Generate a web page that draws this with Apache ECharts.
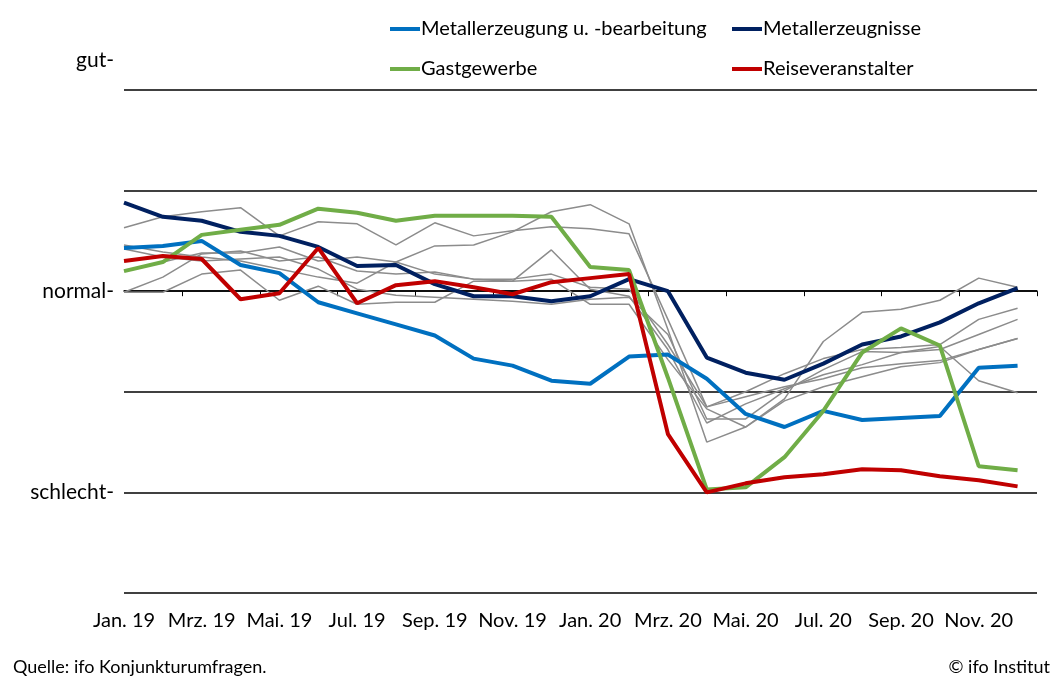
<!DOCTYPE html>
<html>
<head>
<meta charset="utf-8">
<script src="https://cdn.jsdelivr.net/npm/echarts@6/dist/echarts.min.js"></script>
<style>
  html, body { margin: 0; padding: 0; background: #fff; }
  #chart { width: 1057px; height: 679px; }
</style>
</head>
<body>
<div id="chart"></div>
<script>
// months Jan. 19 .. Dez. 20 (index 0..23)
const monthLabels = ['Jan. 19', 'Feb. 19', 'Mrz. 19', 'Apr. 19', 'Mai. 19', 'Jun. 19', 'Jul. 19', 'Aug. 19', 'Sep. 19', 'Okt. 19', 'Nov. 19', 'Dez. 19',
  'Jan. 20', 'Feb. 20', 'Mrz. 20', 'Apr. 20', 'Mai. 20', 'Jun. 20', 'Jul. 20', 'Aug. 20', 'Sep. 20', 'Okt. 20', 'Nov. 20', 'Dez. 20'];
const labelMonths = [0, 2, 4, 6, 8, 10, 12, 14, 16, 18, 20, 22];
const tickMonths = [1.5, 3.5, 5.5, 7.5, 9.5, 11.5, 13.5, 15.5, 17.5, 19.5, 21.5, 23.5];

// y scale: 20 = gut, 0 = normal, -20 = schlecht
const yLabels = { '20': 'gut-', '0': 'normal-', '-20': 'schlecht-' };

const metallerzeugung = [4.3, 4.5, 5.0, 2.6, 1.8, -1.1, -2.2, -3.3, -4.4, -6.7, -7.4, -8.9,
  -9.2, -6.5, -6.3, -8.7, -12.2, -13.5, -11.9, -12.8, -12.6, -12.4, -7.6, -7.4];
const metallerzeugnisse = [8.8, 7.4, 7.0, 5.9, 5.5, 4.4, 2.5, 2.6, 0.7, -0.5, -0.5, -1.0,
  -0.5, 1.2, 0.0, -6.6, -8.1, -8.8, -7.2, -5.3, -4.5, -3.1, -1.2, 0.3];
const gastgewerbe = [2.0, 2.9, 5.6, 6.1, 6.6, 8.2, 7.8, 7.0, 7.5, 7.5, 7.5, 7.4,
  2.4, 2.1, -8.6, -19.7, -19.5, -16.5, -11.9, -6.1, -3.7, -5.4, -17.4, -17.8];
const reiseveranstalter = [3.0, 3.5, 3.2, -0.8, -0.2, 4.3, -1.2, 0.6, 1.0, 0.4, -0.3, 0.9,
  1.3, 1.7, -14.2, -20.0, -19.1, -18.5, -18.2, -17.7, -17.8, -18.4, -18.8, -19.4];

// other sectors (grey)
const grau1 = [6.3, 7.4, 7.9, 8.3, 5.5, 6.9, 6.7, 4.6, 6.8, 5.5, 6.0, 6.4,
  6.2, 5.7, -2.8, -11.5, -10.0, -8.2, -6.7, -5.8, -5.6, -5.3, -2.8, -1.7];
const grau2 = [4.6, 3.9, 3.4, 3.0, 2.2, 1.4, 0.8, 2.9, 4.5, 4.6, 5.9, 7.9,
  8.6, 6.7, -3.8, -15.0, -13.5, -10.7, -5.0, -2.1, -1.8, -0.9, 1.3, 0.4];
const grau3 = [2.0, 2.9, 3.8, 3.8, 4.4, 3.0, 3.4, 2.9, 1.7, 1.2, 1.0, 4.1,
  0.2, -0.5, -5.8, -13.1, -11.2, -9.7, -8.3, -7.3, -6.1, -5.5, -8.9, -10.1];
const grau4 = [-0.1, 1.4, 3.7, 4.0, 3.0, 3.4, 2.0, 1.7, 1.9, 1.2, 1.2, 1.7,
  0.4, 0.2, -5.3, -11.5, -10.5, -9.5, -8.7, -7.6, -7.2, -6.9, -5.8, -4.7];
const grau5 = [-0.1, -0.1, 1.7, 2.1, -0.9, 0.5, -1.3, -1.1, -1.1, 1.0, 1.0, 1.2,
  -1.3, -1.3, -6.8, -11.7, -13.5, -10.9, -9.5, -8.5, -7.5, -7.1, -5.8, -4.7];
const grau6 = [4.2, 3.4, 3.0, 3.2, 3.4, 2.2, 0.2, -0.4, -0.6, -0.8, -1.0, -1.3,
  -0.8, -0.6, -4.3, -12.7, -12.7, -9.9, -7.8, -6.0, -6.1, -5.8, -4.3, -2.8];

const FONT = 'Lato, "Liberation Sans", sans-serif';

const toPoints = (arr) => arr.map((v, i) => [i, v]);

const chart = echarts.init(document.getElementById('chart'));

const greySeries = [grau1, grau2, grau3, grau4, grau5, grau6].map((arr, k) => ({
  name: 'grau' + (k + 1),
  type: 'line',
  data: toPoints(arr),
  symbol: 'none',
  silent: true,
  lineStyle: { color: '#8c8c8c', width: 1.5 },
  z: 2
}));

const mainLine = (name, arr, color) => ({
  name: name,
  type: 'line',
  data: toPoints(arr),
  symbol: 'none',
  lineStyle: { color: color, width: 4 },
  itemStyle: { color: color },
  z: 3
});

const legendBase = {
  orient: 'vertical',
  top: 14,
  itemWidth: 30,
  itemHeight: 4,
  itemGap: 20,
  icon: 'rect',
  selectedMode: false,
  textStyle: { fontFamily: FONT, fontSize: 20, color: '#000', padding: [0, 0, 0, -4] }
};

const option = {
  animation: false,
  textStyle: { fontFamily: FONT },
  legend: [
    Object.assign({}, legendBase, { left: 385, data: ['Metallerzeugung u. -bearbeitung', 'Gastgewerbe'] }),
    Object.assign({}, legendBase, { left: 727, data: ['Metallerzeugnisse', 'Reiseveranstalter'] })
  ],
  title: [
    {
      text: 'Quelle: ifo Konjunkturumfragen.',
      left: 8, bottom: -2,
      textStyle: { fontFamily: FONT, fontSize: 18, fontWeight: 'normal', color: '#000' }
    },
    {
      text: '© ifo Institut',
      right: 2, bottom: -2,
      textStyle: { fontFamily: FONT, fontSize: 18, fontWeight: 'normal', color: '#000' }
    }
  ],
  grid: { left: 124, right: 20, top: 90, bottom: 86 },
  xAxis: {
    type: 'value',
    min: 0,
    max: 23.5,
    splitLine: { show: false },
    axisLine: { lineStyle: { color: '#000', width: 1.5 } },
    axisTick: {
      customValues: tickMonths,
      length: 5,
      lineStyle: { color: '#000', width: 1 }
    },
    axisLabel: {
      customValues: labelMonths,
      formatter: (v) => monthLabels[Math.round(v)],
      fontFamily: FONT,
      fontSize: 20,
      color: '#000',
      margin: 18
    }
  },
  yAxis: {
    type: 'value',
    min: -30,
    max: 20,
    interval: 10,
    axisLine: { show: false },
    axisTick: { show: false },
    splitLine: { lineStyle: { color: '#000', width: 1.5 } },
    axisLabel: {
      customValues: [20, 0, -20],
      formatter: (v) => v === 20 ? '{up|' + yLabels[String(v)] + '}' : yLabels[String(v)],
      fontFamily: FONT,
      fontSize: 21,
      color: '#000',
      margin: 10,
      rich: {
        up: { fontFamily: FONT, fontSize: 21, color: '#000', padding: [0, 0, 60, 0] }
      }
    }
  },
  series: greySeries.concat([
    mainLine('Metallerzeugung u. -bearbeitung', metallerzeugung, '#0070C0'),
    mainLine('Metallerzeugnisse', metallerzeugnisse, '#002060'),
    mainLine('Gastgewerbe', gastgewerbe, '#70AD47'),
    mainLine('Reiseveranstalter', reiseveranstalter, '#C00000')
  ])
};

chart.setOption(option);
window.addEventListener('resize', () => chart.resize());
</script>
</body>
</html>
